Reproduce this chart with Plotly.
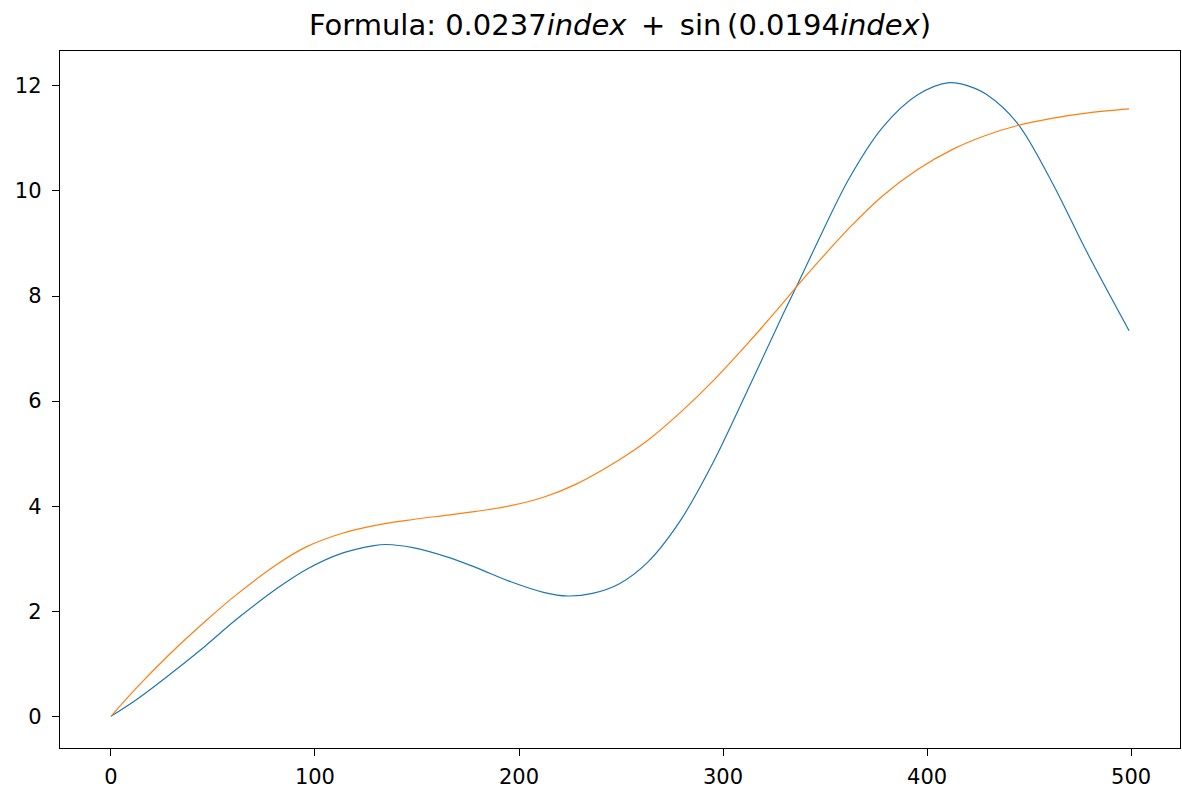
import plotly.graph_objects as go

# Series sampled along the index axis
blue_index = [0, 13, 29, 46, 62, 82, 96, 113, 129, 135, 148, 165, 179, 196, 212,
              224, 236, 249, 263, 279, 295, 311, 329, 337, 346, 362, 378, 395,
              411, 420, 429, 444, 461, 478, 499]
blue_values = [0.0, 0.33, 0.80, 1.33, 1.86, 2.45, 2.80, 3.10, 3.25, 3.27, 3.21,
               3.03, 2.83, 2.56, 2.36, 2.29, 2.34, 2.52, 2.93, 3.72, 4.82, 6.12,
               7.62, 8.26, 9.00, 10.25, 11.20, 11.82, 12.06, 12.00, 11.84, 11.30,
               10.18, 8.86, 7.34]

orange_index = [0, 13, 29, 46, 62, 82, 96, 113, 129, 145, 165, 179, 196, 212, 228,
                249, 263, 279, 295, 311, 329, 337, 346, 362, 378, 395, 413, 429,
                444, 461, 478, 499]
orange_values = [0.0, 0.56, 1.19, 1.80, 2.33, 2.91, 3.23, 3.48, 3.63, 3.73, 3.83,
                 3.90, 4.01, 4.17, 4.42, 4.88, 5.25, 5.78, 6.38, 7.05, 7.85, 8.22,
                 8.62, 9.30, 9.90, 10.40, 10.80, 11.06, 11.24, 11.38, 11.48, 11.56]

x_ticks = [0, 100, 200, 300, 400, 500]
y_ticks = [0, 2, 4, 6, 8, 10, 12]

title_text = ("Formula: 0.0237<i>index</i>\u2002+\u2002sin\u2009"
              "(0.0194<i>index</i>)")

# Axis limits padded by 5% of the data span on each side
all_x = blue_index + orange_index
all_y = blue_values + orange_values
x_pad = 0.05 * (max(all_x) - min(all_x))
y_pad = 0.05 * (max(all_y) - min(all_y))
x_range = [min(all_x) - x_pad, max(all_x) + x_pad]
y_range = [min(all_y) - y_pad, max(all_y) + y_pad]

fig = go.Figure()
fig.add_trace(go.Scatter(
    x=blue_index, y=blue_values, mode="lines",
    line=dict(color="#1f77b4", width=1.2, shape="spline", smoothing=1.0),
    showlegend=False,
))
fig.add_trace(go.Scatter(
    x=orange_index, y=orange_values, mode="lines",
    line=dict(color="#ff7f0e", width=1.2, shape="spline", smoothing=1.0),
    showlegend=False,
))

axis_common = dict(
    showgrid=False, zeroline=False, automargin=False,
    showline=True, linecolor="black", linewidth=1.4, mirror=True,
    ticks="outside", ticklen=7, tickwidth=1.4, tickcolor="black",
    tickfont=dict(family="DejaVu Sans", size=21, color="black"),
)

fig.update_xaxes(range=x_range, tickvals=x_ticks, ticklabelstandoff=3, **axis_common)
fig.update_yaxes(range=y_range, tickvals=y_ticks, ticklabelstandoff=6, **axis_common)

fig.update_layout(
    width=1182, height=790,
    margin=dict(l=60, r=2, t=51, b=42),
    paper_bgcolor="white", plot_bgcolor="white",
    title=dict(
        text=title_text, x=0.5, xref="paper",
        y=0.969, yref="container", yanchor="middle",
        font=dict(family="DejaVu Sans", size=29, color="black"),
    ),
)

fig.write_html("out.html")
